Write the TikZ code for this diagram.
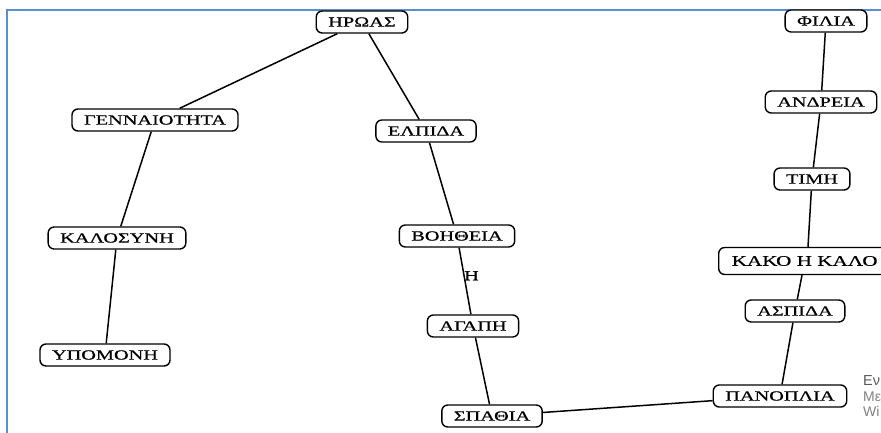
\documentclass[tikz,border=0pt]{standalone}
\usepackage{fontspec}
\newfontfamily\mapfont[FakeStretch=1.45, FakeBold=0.6]{Liberation Serif}
\newfontfamily\winfont{Liberation Sans}
\definecolor{frameblue}{RGB}{91,141,208}
\tikzset{
  concept/.style={draw, rounded corners=6pt, line width=1.4pt, inner xsep=12pt, inner ysep=0pt,
    minimum height=22pt, fill=white, font=\mapfont\fontsize{14}{16}\selectfont},
  link/.style={line width=1.5pt}
}

\begin{document}
\begin{tikzpicture}[x=1pt, y=-1pt]
        \useasboundingbox (0,0) rectangle (881,433);
        \clip (0,0) rectangle (881,433);
        % frame of the window
        \draw[frameblue, line width=1.8pt] (7,433) -- (7,10) -- (881,10);

        % left branch
        \node[concept] (heroas) at (362,22) {ΗΡΩΑΣ};
        \node[concept] (gennaiotita) at (155,120) {ΓΕΝΝΑΙΟΤΗΤΑ};
        \node[concept] (kalosyni) at (117,238) {ΚΑΛΟΣΥΝΗ};
        \node[concept] (ypomoni) at (105,355) {ΥΠΟΜΟΝΗ};
        % middle branch
        \node[concept] (elpida) at (426,131) {ΕΛΠΙΔΑ};
        \node[concept] (voitheia) at (457,236) {ΒΟΗΘΕΙΑ};
        \node[concept] (agapi) at (473,326) {ΑΓΑΠΗ};
        \node[concept] (spathia) at (492,416) {ΣΠΑΘΙΑ};
        % right branch
        \node[concept] (filia) at (826,21) {ΦΙΛΙΑ};
        \node[concept] (andreia) at (821,102) {ΑΝΔΡΕΙΑ};
        \node[concept] (timi) at (812,179) {ΤΙΜΗ};
        \node[concept, anchor=west, minimum height=27pt, inner xsep=13pt,
              font=\mapfont\fontsize{14.6}{16}\selectfont] (kako) at (718,261) {ΚΑΚΟ Η ΚΑΛΟ};
        \node[concept] (aspida) at (795,311) {ΑΣΠΙΔΑ};
        \node[concept] (panoplia) at (780,396) {ΠΑΝΟΠΛΙΑ};

        % Draw the links
        \draw[link] (heroas) -- (gennaiotita);
        \draw[link] (heroas) -- (elpida);
        \draw[link] (gennaiotita) -- (kalosyni);
        \draw[link] (kalosyni) -- (ypomoni);
        \draw[link] (elpida) -- (voitheia);
        \draw[link] (voitheia) -- node[pos=0.42, right=-4pt, font=\mapfont\fontsize{14}{16}\selectfont] (or) {Η} (agapi);
        \draw[link] (agapi) -- (spathia);
        \draw[link] (spathia) -- (panoplia);
        \draw[link] (panoplia) -- (aspida);
        \draw[link] (aspida) -- (kako.south -| 802,0);
        \draw[link] (kako.north -| 808,0) -- (timi);
        \draw[link] (timi) -- (andreia);
        \draw[link] (andreia) -- (filia);

        % watermark text at the edge
        \node[anchor=west, inner sep=0pt, text=black!65, font=\winfont\fontsize{14.5}{16}\selectfont] (wmone) at (863,381) {Εν};
        \node[anchor=west, inner sep=0pt, text=black!50, font=\winfont\fontsize{14}{15}\selectfont] (wmtwo) at (863,397) {Με};
        \node[anchor=west, inner sep=0pt, text=black!50, font=\winfont\fontsize{14}{15}\selectfont] (wmthree) at (863,411) {Wi};
    \end{tikzpicture}
\end{document}
